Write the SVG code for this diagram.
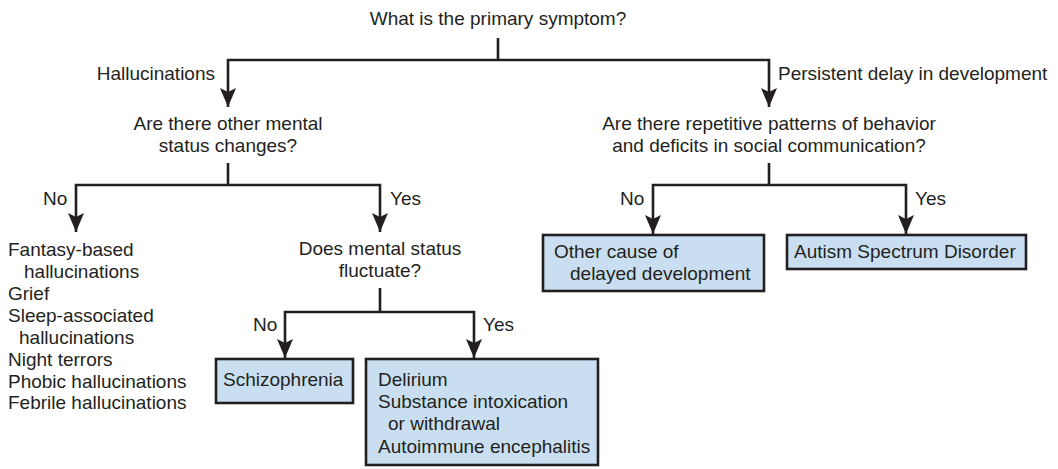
<svg xmlns="http://www.w3.org/2000/svg" width="1058" height="469" viewBox="0 0 1058 469">
  <style>
    text { font-family: "Liberation Sans", Arial, Helvetica, sans-serif; font-size: 19px; fill: #231f20; }
    .c { text-anchor: middle; }
    .e { text-anchor: end; }
    .ln { fill: none; stroke: #231f20; stroke-width: 2.6; }
    .arr { marker-end: url(#ah); }
    .box { fill: #c9dff1; stroke: #231f20; stroke-width: 2.6; }
  </style>
  <defs>
    <marker id="ah" markerUnits="userSpaceOnUse" markerWidth="20" markerHeight="18" viewBox="0 0 20 18" refX="19" refY="9" orient="auto">
      <path d="M0,1 L19,9 L0,17 L4,9 Z" fill="#231f20"/>
    </marker>
  </defs>
  <rect width="1058" height="469" fill="#ffffff"/>

  <g id="connectors">
    <path class="ln" d="M498,38 V60"/>
    <path class="ln arr" d="M498,60 H228 V107"/>
    <path class="ln arr" d="M498,60 H769 V107"/>
    <path class="ln" d="M228,163 V185"/>
    <path class="ln arr" d="M228,185 H76 V232"/>
    <path class="ln arr" d="M228,185 H380 V232"/>
    <path class="ln" d="M769,163 V185"/>
    <path class="ln arr" d="M769,185 H653 V234"/>
    <path class="ln arr" d="M769,185 H906 V234"/>
    <path class="ln" d="M380,288 V312"/>
    <path class="ln arr" d="M380,312 H285 V358"/>
    <path class="ln arr" d="M380,312 H474 V358"/>
  </g>

  <g id="labels">
    <text class="e" x="215" y="80">Hallucinations</text>
    <text x="778" y="80">Persistent delay in development</text>
    <text x="43" y="205">No</text>
    <text x="390" y="205">Yes</text>
    <text x="620" y="205">No</text>
    <text x="915" y="205">Yes</text>
    <text x="253" y="331">No</text>
    <text x="483" y="331">Yes</text>
  </g>

  <g id="q-primary">
    <text class="c" x="498" y="25">What is the primary symptom?</text>
  </g>
  <g id="q-mental-status">
    <text class="c" x="228" y="130">Are there other mental</text>
    <text class="c" x="228" y="152">status changes?</text>
  </g>
  <g id="q-repetitive">
    <text class="c" x="769" y="130">Are there repetitive patterns of behavior</text>
    <text class="c" x="769" y="152">and deficits in social communication?</text>
  </g>
  <g id="no-changes-list">
    <text x="8" y="256">Fantasy-based</text>
    <text x="24" y="278">hallucinations</text>
    <text x="8" y="300">Grief</text>
    <text x="8" y="322">Sleep-associated</text>
    <text x="19" y="344">hallucinations</text>
    <text x="8" y="366">Night terrors</text>
    <text x="8" y="388">Phobic hallucinations</text>
    <text x="8" y="409">Febrile hallucinations</text>
  </g>
  <g id="q-fluctuate">
    <text class="c" x="380" y="255">Does mental status</text>
    <text class="c" x="380" y="277">fluctuate?</text>
  </g>
  <g id="schizophrenia">
    <rect class="box" x="216" y="359" width="137" height="44"/>
    <text x="223" y="386">Schizophrenia</text>
  </g>
  <g id="delirium">
    <rect class="box" x="366" y="359" width="232" height="106"/>
    <text x="378" y="386">Delirium</text>
    <text x="378" y="408">Substance intoxication</text>
    <text x="388" y="430">or withdrawal</text>
    <text x="378" y="453">Autoimmune encephalitis</text>
  </g>
  <g id="other-cause">
    <rect class="box" x="543" y="235" width="221" height="56"/>
    <text x="554" y="258">Other cause of</text>
    <text x="570" y="280">delayed development</text>
  </g>
  <g id="autism">
    <rect class="box" x="787" y="235" width="239" height="34"/>
    <text x="794" y="258">Autism Spectrum Disorder</text>
  </g>
</svg>
